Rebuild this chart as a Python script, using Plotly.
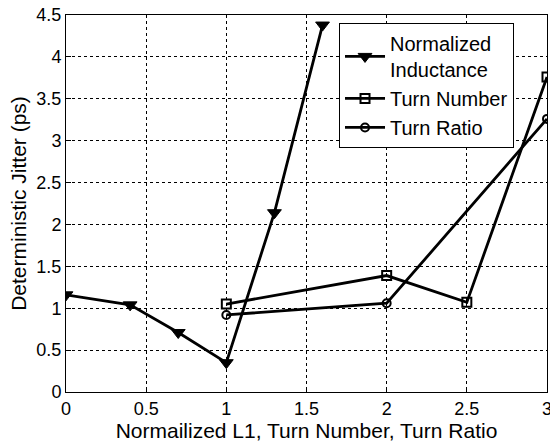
import plotly.graph_objects as go

ind_x = [0, 0.4, 0.7, 1.0, 1.3, 1.6]
ind_y = [1.16, 1.04, 0.71, 0.35, 2.14, 4.38]
tn_x = [1, 2, 2.5, 3]
tn_y = [1.05, 1.39, 1.07, 3.76]
tr_x = [1, 2, 3]
tr_y = [0.92, 1.06, 3.26]

x_ticks = [0, 0.5, 1, 1.5, 2, 2.5, 3]
x_labels = ["0", "0.5", "1", "1.5", "2", "2.5", "3"]
y_ticks = [0, 0.5, 1, 1.5, 2, 2.5, 3, 3.5, 4, 4.5]
y_labels = ["0", "0.5", "1", "1.5", "2", "2.5", "3", "3.5", "4", "4.5"]

FONT = "Liberation Sans, Arial"

fig = go.Figure()
fig.add_trace(go.Scatter(x=ind_x, y=ind_y, mode="lines+markers", name="Normalized<br>Inductance",
                         line=dict(color="black", width=2.8),
                         marker=dict(symbol="triangle-down", size=12, color="black",
                                     line=dict(color="black", width=1))))
fig.add_trace(go.Scatter(x=tn_x, y=tn_y, mode="lines+markers", name="Turn Number",
                         line=dict(color="black", width=2.8),
                         marker=dict(symbol="square-open", size=9, color="black",
                                     line=dict(color="black", width=2))))
fig.add_trace(go.Scatter(x=tr_x, y=tr_y, mode="lines+markers", name="Turn Ratio",
                         line=dict(color="black", width=2.8),
                         marker=dict(symbol="circle-open", size=8, color="black",
                                     line=dict(color="black", width=2))))

axis_common = dict(showline=True, linecolor="black", linewidth=1, mirror=True,
                   showgrid=True, gridcolor="black", griddash="dot", gridwidth=1,
                   ticks="inside", ticklen=5, tickcolor="black", zeroline=False,
                   ticklabeloverflow="allow", automargin=False,
                   tickfont=dict(family=FONT, size=18, color="black"))

fig.update_layout(
    width=550, height=443,
    margin=dict(l=66, r=3, t=15, b=51),
    paper_bgcolor="white", plot_bgcolor="white",
    showlegend=True,
    legend=dict(x=0.5676, y=0.979, xanchor="left", yanchor="top",
                bgcolor="white", bordercolor="black", borderwidth=1,
                font=dict(family=FONT, size=20, color="black"),
                tracegroupgap=0, itemwidth=40),
    xaxis=dict(range=[0, 3], tickvals=x_ticks, ticktext=x_labels,
               title=dict(text="Normailized L1, Turn Number, Turn Ratio", standoff=2,
                          font=dict(family=FONT, size=21, color="black")),
               **axis_common),
    yaxis=dict(range=[0, 4.5], tickvals=y_ticks, ticktext=y_labels,
               title=dict(text="Deterministic Jitter (ps)", standoff=4,
                          font=dict(family=FONT, size=21, color="black")),
               **axis_common),
)
fig.write_html("out.html")
